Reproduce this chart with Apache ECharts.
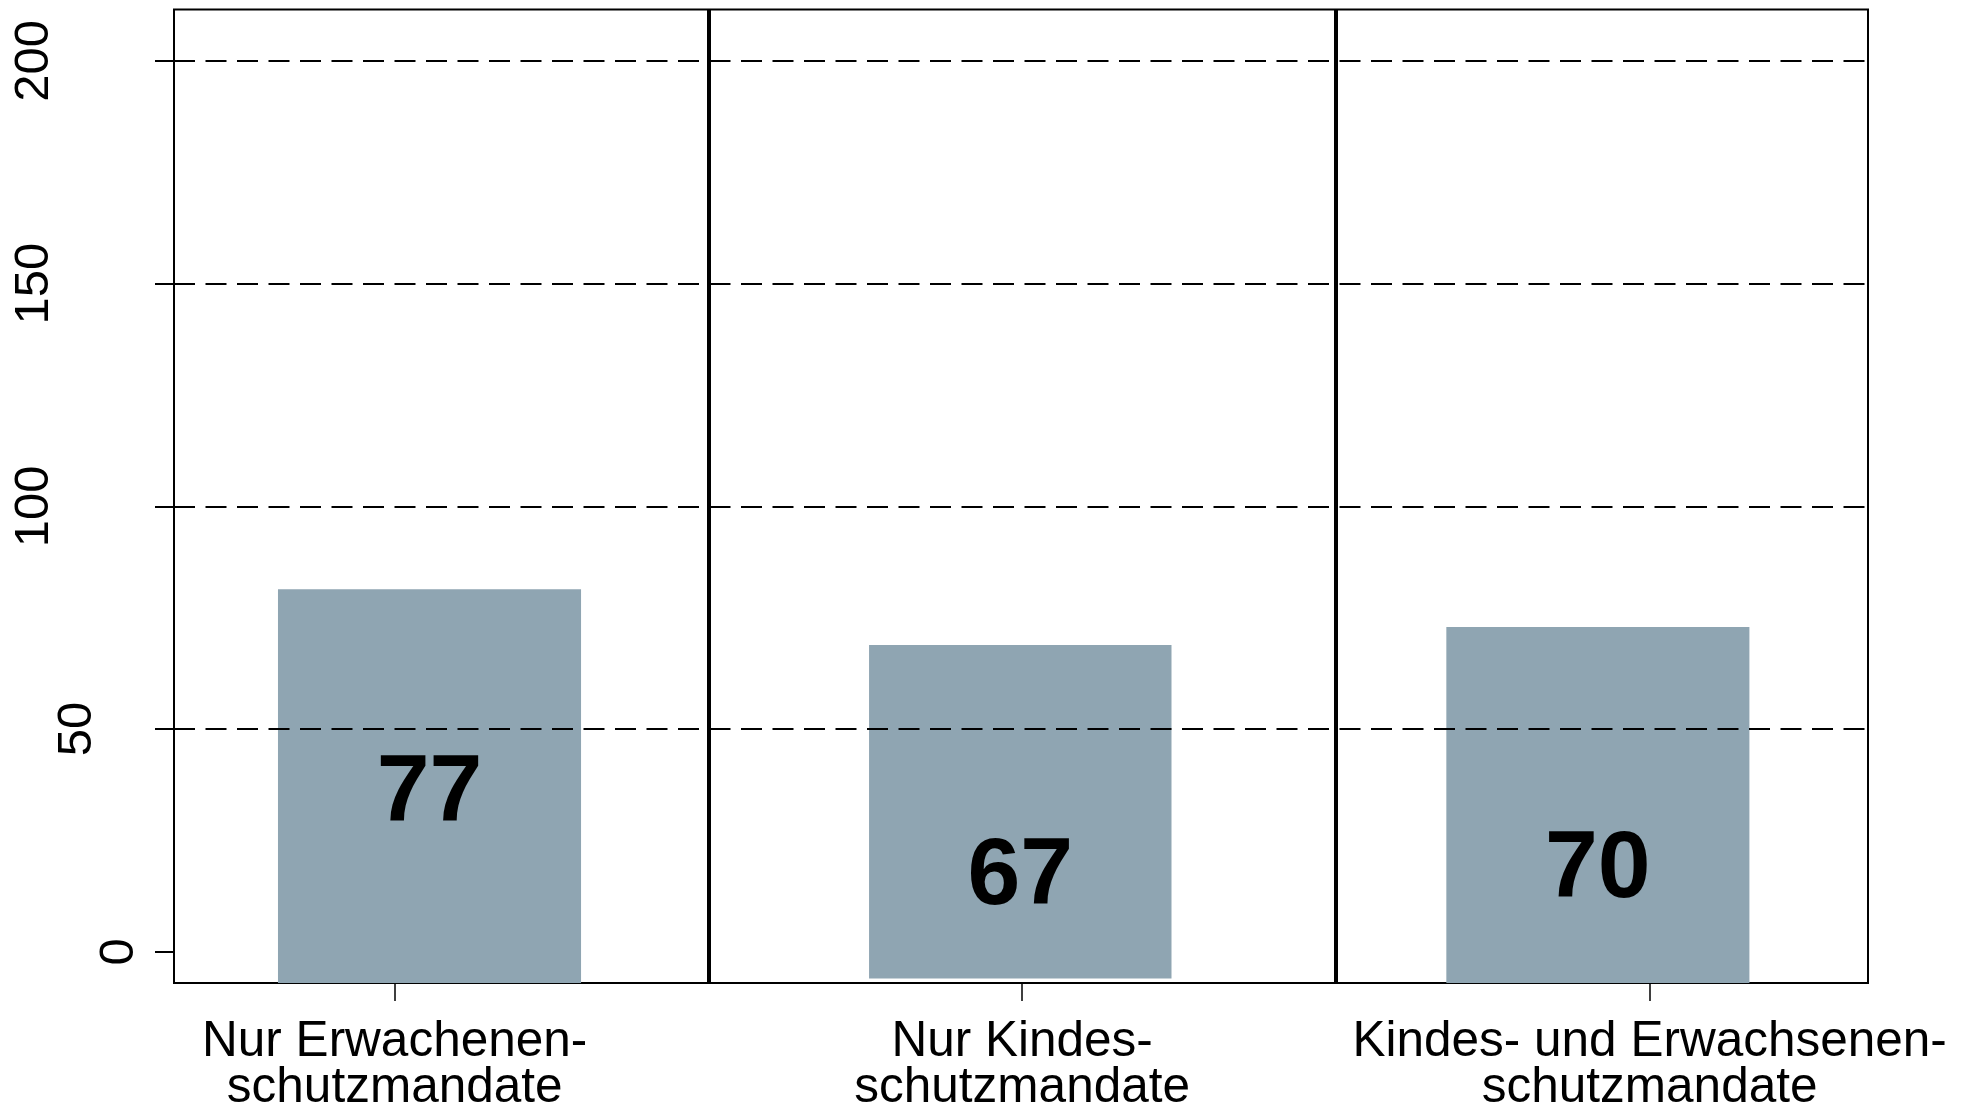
<!DOCTYPE html>
<html>
<head>
<meta charset="utf-8">
<script src="https://cdn.jsdelivr.net/npm/echarts@6/dist/echarts.min.js"></script>
<style>
  html, body { margin: 0; padding: 0; background: #fff; }
  #chart { width: 1977px; height: 1111px; }
</style>
</head>
<body>
<div id="chart"></div>
<script>
// categories on x = 1, 2, 3
const categories = [
  "Nur Erwachenen-\nschutzmandate",
  "Nur Kindes-\nschutzmandate",
  "Kindes- und Erwachsenen-\nschutzmandate"
];
const categoryPos = [1, 2, 3];

// bar values (printed labels)
const barValues = [77, 67, 70];
// bar geometry as drawn in the figure (axis units)
const barLeft = [0.814, 1.756, 2.676];
const barRight = [1.297, 2.238, 3.159];
const barBase = [-7.0, -6.0, -7.0];
const barTop = [81.4, 68.9, 72.9];
// vertical position of printed values (axis units)
const labelY = [35.2, 16.7, 18.3];

// y axis ticks
const yTicks = [0, 50, 100, 150, 200];
const yGrid = [50, 100, 150, 200];
// panel separators
const sepX = [1.497, 2.499];

const font = '"Liberation Sans", Arial, Helvetica, sans-serif';
const barColor = "#8FA5B2";

let chart = echarts.init(document.getElementById("chart"));

let barData = [];
for (let i = 0; i < barValues.length; i++) {
  barData.push([barLeft[i], barRight[i], barBase[i], barTop[i], barValues[i], (barLeft[i] + barRight[i]) / 2, labelY[i]]);
}

chart.setOption({
  animation: false,
  backgroundColor: "#fff",
  grid: {
    left: 174,
    right: 109,
    top: 9.5,
    bottom: 128,
    containLabel: false,
    outerBoundsMode: "none",
    show: true,
    borderColor: "#000",
    borderWidth: 2,
    backgroundColor: "#fff",
  },
  xAxis: {
    type: "value",
    min: 0.6483,
    max: 3.348,
    axisLine: { show: false, onZero: false },
    splitLine: { show: false },
    axisTick: {
      show: true,
      customValues: categoryPos,
      length: 18,
      lineStyle: { color: "#000", width: 1.5 },
    },
    axisLabel: {
      customValues: categoryPos,
      margin: 36,
      color: "#000",
      fontFamily: font,
      fontSize: 49.5,
      lineHeight: 46,
      formatter: function (v) {
        return categories[Math.round(v) - 1];
      },
    },
  },
  yAxis: {
    type: "value",
    min: -7.0,
    max: 211.56,
    axisLine: { show: false, onZero: false },
    splitLine: { show: false },
    axisTick: {
      show: true,
      customValues: yTicks,
      length: 19,
      lineStyle: { color: "#000", width: 2 },
    },
    axisLabel: {
      customValues: yTicks,
      rotate: 90,
      margin: 30,
      color: "#000",
      fontFamily: font,
      fontSize: 49,
      formatter: function (v) {
        let s = String(v);
        return "{l" + s.length + "|" + s + "}";
      },
      rich: {
        l1: { fontFamily: font, fontSize: 49, color: "#000", padding: [0, 0, 0, 0] },
        l2: { fontFamily: font, fontSize: 49, color: "#000", padding: [0, 0, 42, 0] },
        l3: { fontFamily: font, fontSize: 49, color: "#000", padding: [0, 0, 85, 0] },
      },
    },
  },
  series: [
    {
      // dashed grid lines
      type: "line",
      data: [],
      silent: true,
      z: 1,
      markLine: {
        silent: true,
        symbol: ["none", "none"],
        label: { show: false },
        animation: false,
        data: yGrid.map(function (v) {
          return { yAxis: v, lineStyle: { color: "#000", width: 1.8, type: [21, 10.5] } };
        }),
      },
    },
    {
      type: "custom",
      z: 3,
      data: barData,
      renderItem: function (params, api) {
        let p0 = api.coord([api.value(0), api.value(3)]);
        let p1 = api.coord([api.value(1), api.value(2)]);
        let c = api.coord([api.value(5), api.value(6)]);
        return {
          type: "group",
          children: [
            {
              type: "rect",
              shape: { x: p0[0], y: p0[1], width: p1[0] - p0[0], height: p1[1] - p0[1] },
              style: { fill: barColor },
            },
            {
              type: "text",
              style: {
                text: String(api.value(4)),
                x: c[0],
                y: c[1],
                align: "center",
                verticalAlign: "middle",
                font: "bold 95px " + font,
                fill: "#000",
              },
            },
          ],
        };
      },
    },
    {
      // panel separators
      type: "line",
      data: [],
      silent: true,
      z: 5,
      markLine: {
        silent: true,
        symbol: ["none", "none"],
        label: { show: false },
        animation: false,
        data: sepX.map(function (v) {
          return { xAxis: v, lineStyle: { color: "#000", width: 4, type: "solid" } };
        }),
      },
    },
  ],
});
</script>
</body>
</html>
